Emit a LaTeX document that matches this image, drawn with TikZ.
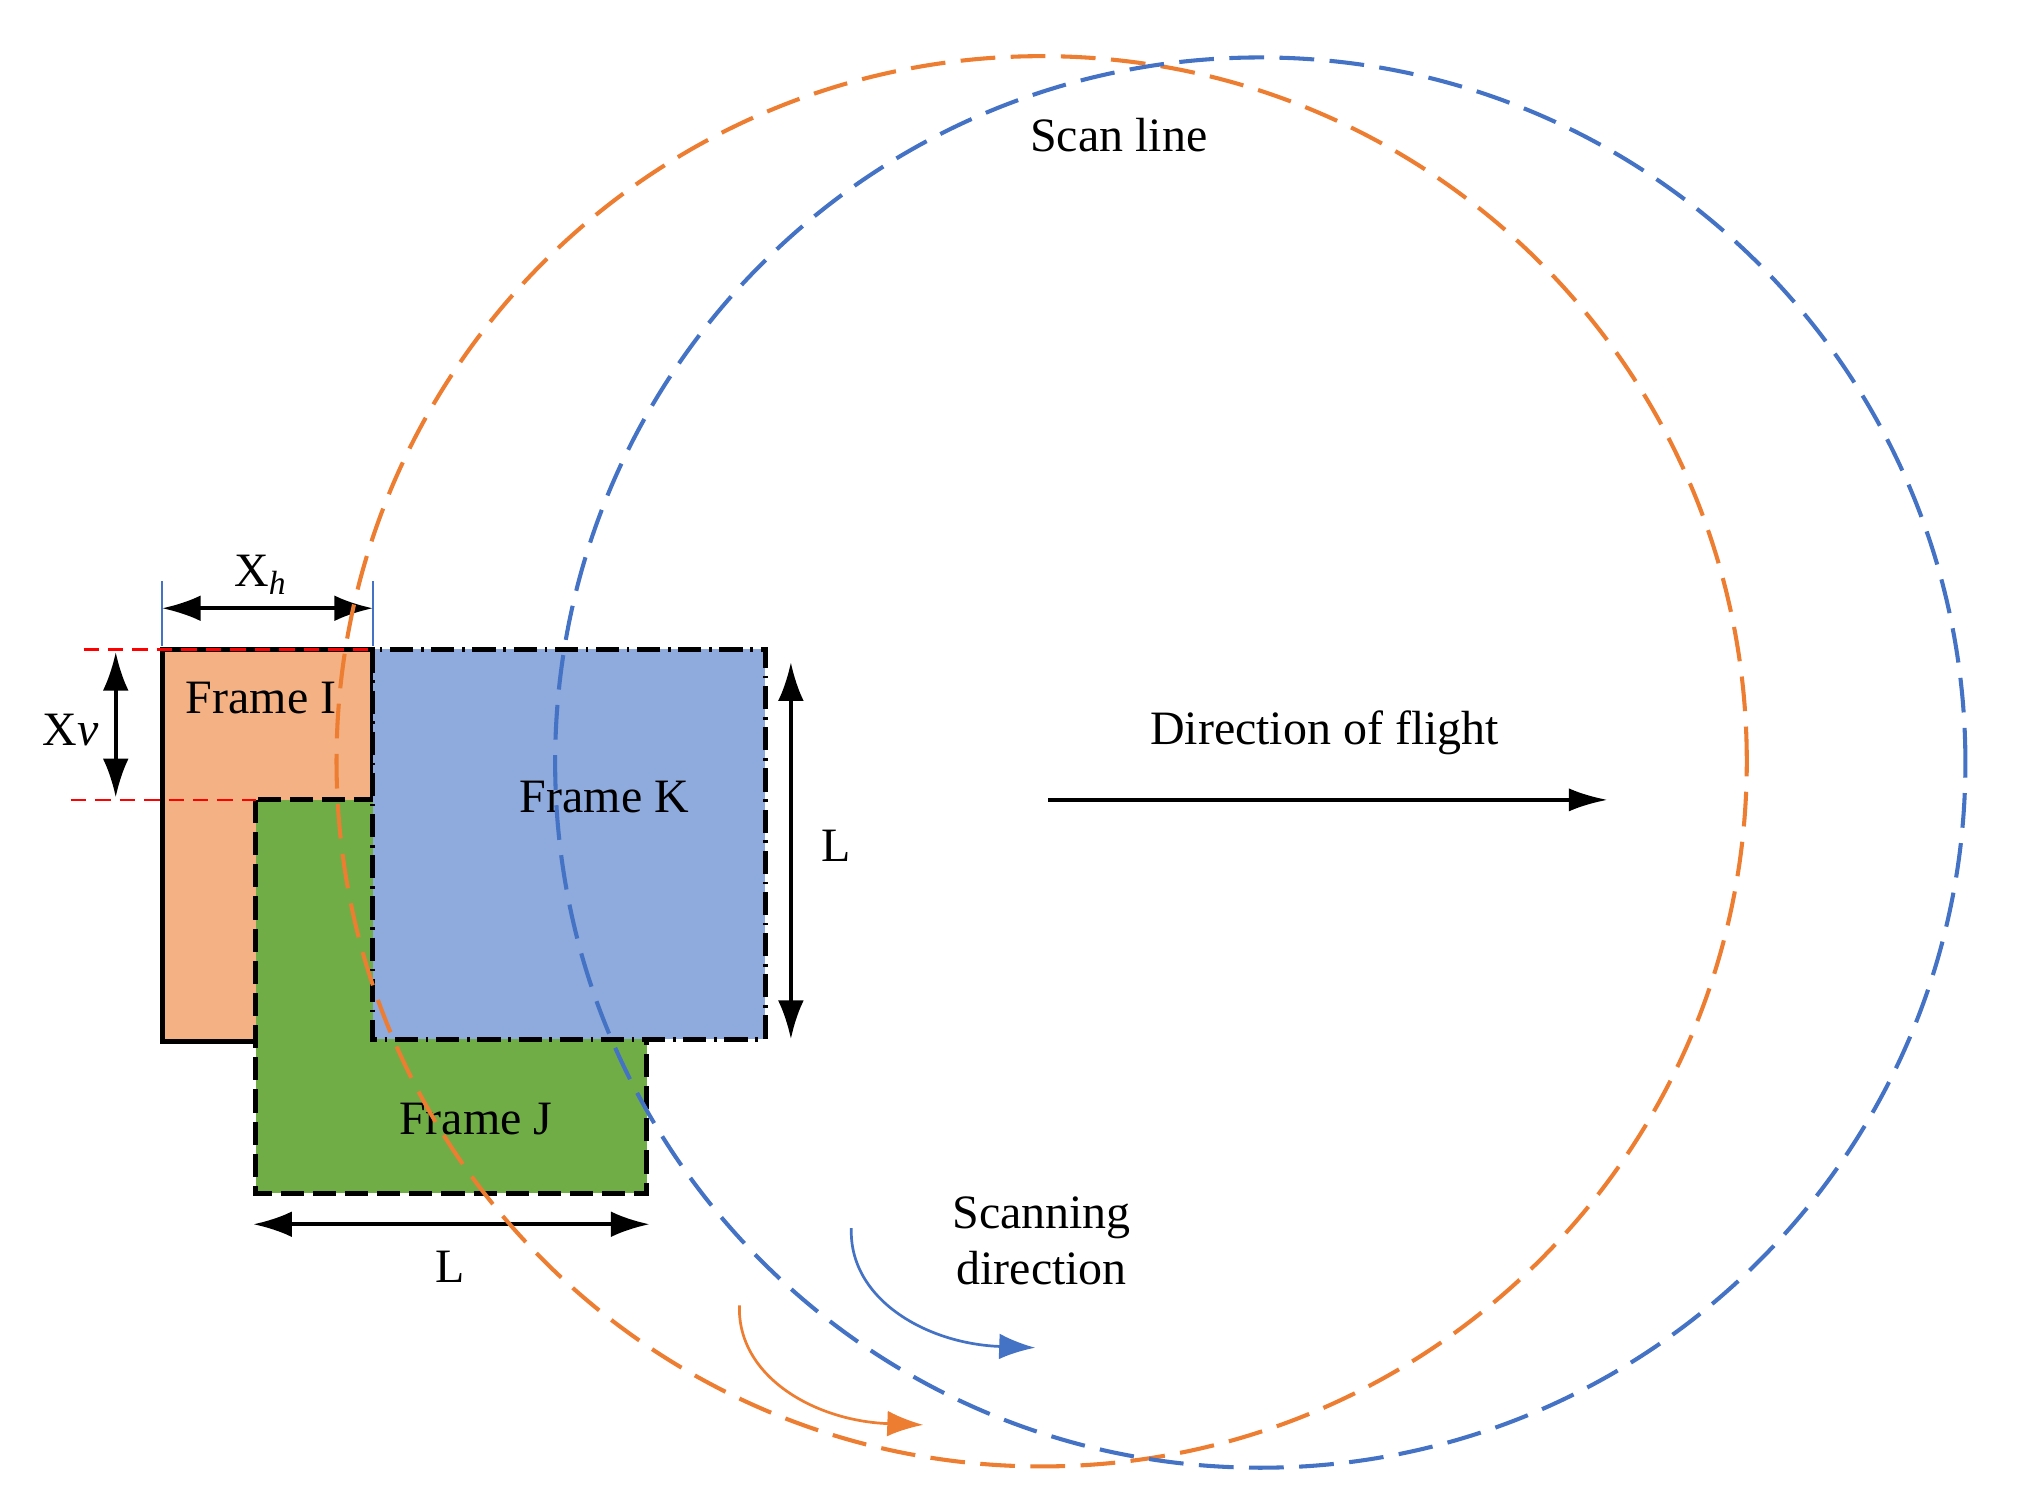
\documentclass[tikz,border=0pt]{standalone}
\usepackage{fontspec}
\setmainfont{Liberation Serif}
\usetikzlibrary{arrows.meta}
\definecolor{orc}{HTML}{ED7D31}
\definecolor{blc}{HTML}{4472C4}
\definecolor{fI}{HTML}{F4B183}
\definecolor{fJ}{HTML}{70AD47}
\definecolor{fK}{HTML}{8FAADC}
\begin{document}
\begin{tikzpicture}[x=0.01cm,y=-0.01cm,
  font=\fontsize{10.6}{12.5}\selectfont,
  circ/.style={line width=0.9pt,dash pattern=on 0.27cm off 0.12cm},
  frame/.style={line width=1.1pt,draw=black},
  dim/.style={line width=0.8pt,{Latex[length=0.3cm,width=0.2cm]}-{Latex[length=0.3cm,width=0.2cm]}},
  red dash/.style={red,line width=0.6pt,dash pattern=on 0.12cm off 0.07cm},
  tick/.style={blc,line width=0.4pt},
  lbl/.style={inner sep=1pt}]
\useasboundingbox (0,0) rectangle (1570,1171);
% frames
\path[fill=fI,frame] (126,505) rectangle (290,810);
\path[fill=fJ,frame,dash pattern=on 0.18cm off 0.07cm] (199,622) rectangle (503,928);
\path[fill=fK,frame,dash pattern=on 0.18cm off 0.06cm on 0.02cm off 0.06cm] (290,505) rectangle (595,808);
\node[lbl] (tI) at (203,543) {Frame I};
\node[lbl] (tK) at (470,620) {Frame K};
\node[lbl] (tJ) at (370,870) {Frame J};
% red dashed lines
\coordinate (r1a) at (65,505); \coordinate (r1b) at (290,505);
\coordinate (r2a) at (55,622); \coordinate (r2b) at (199,622);
\draw[red dash] (r1a) -- (r1b);
\draw[red dash] (r2a) -- (r2b);
% blue ticks
\coordinate (t1a) at (126,452); \coordinate (t1b) at (126,502);
\coordinate (t2a) at (290,452); \coordinate (t2b) at (290,502);
\draw[tick] (t1a) -- (t1b);
\draw[tick] (t2a) -- (t2b);
% dimensions
\coordinate (xh1) at (126,473); \coordinate (xh2) at (290,473);
\draw[dim] (xh1) -- (xh2);
\node[lbl] (lxh) at (203,447) {X\textsubscript{\itshape h}};
\coordinate (xv1) at (90,507); \coordinate (xv2) at (90,620);
\draw[dim] (xv1) -- (xv2);
\node[lbl] (lxv) at (55,568) {X\textit{v}};
\coordinate (l1a) at (615,515); \coordinate (l1b) at (615,808);
\draw[dim] (l1a) -- (l1b);
\node[lbl] (lL1) at (650,658) {L};
\coordinate (l2a) at (197,952); \coordinate (l2b) at (505,952);
\draw[dim] (l2a) -- (l2b);
\node[lbl] (lL2) at (350,985) {L};
% circles
\node[circle,minimum size=10.96cm,draw=orc,circ,inner sep=0] (co) at (810,592) {};
\node[circle,minimum size=10.96cm,draw=blc,circ,inner sep=0] (cb) at (980,593) {};
% flight
\coordinate (f1) at (815,622); \coordinate (f2) at (1250,622);
\draw[line width=0.8pt,-{Latex[length=0.3cm,width=0.18cm]}] (f1) -- (f2);
\node[lbl] (tf) at (1030,570) {Direction of flight};
\node[lbl] (ts) at (870,105) {Scan line};
\node[lbl,align=center] (tsd) at (810,965) {Scanning\\direction};
% scanning arrows
\coordinate (b1) at (662,955); \coordinate (b2) at (805,1048);
\draw[blc,line width=0.6pt,-{Latex[length=0.28cm,width=0.2cm]}] (b1) .. controls (660,1010) and (720,1045) .. (b2);
\coordinate (o1) at (575,1015); \coordinate (o2) at (718,1108);
\draw[orc,line width=0.6pt,-{Latex[length=0.28cm,width=0.2cm]}] (o1) .. controls (573,1070) and (633,1105) .. (o2);
\end{tikzpicture}
\end{document}
